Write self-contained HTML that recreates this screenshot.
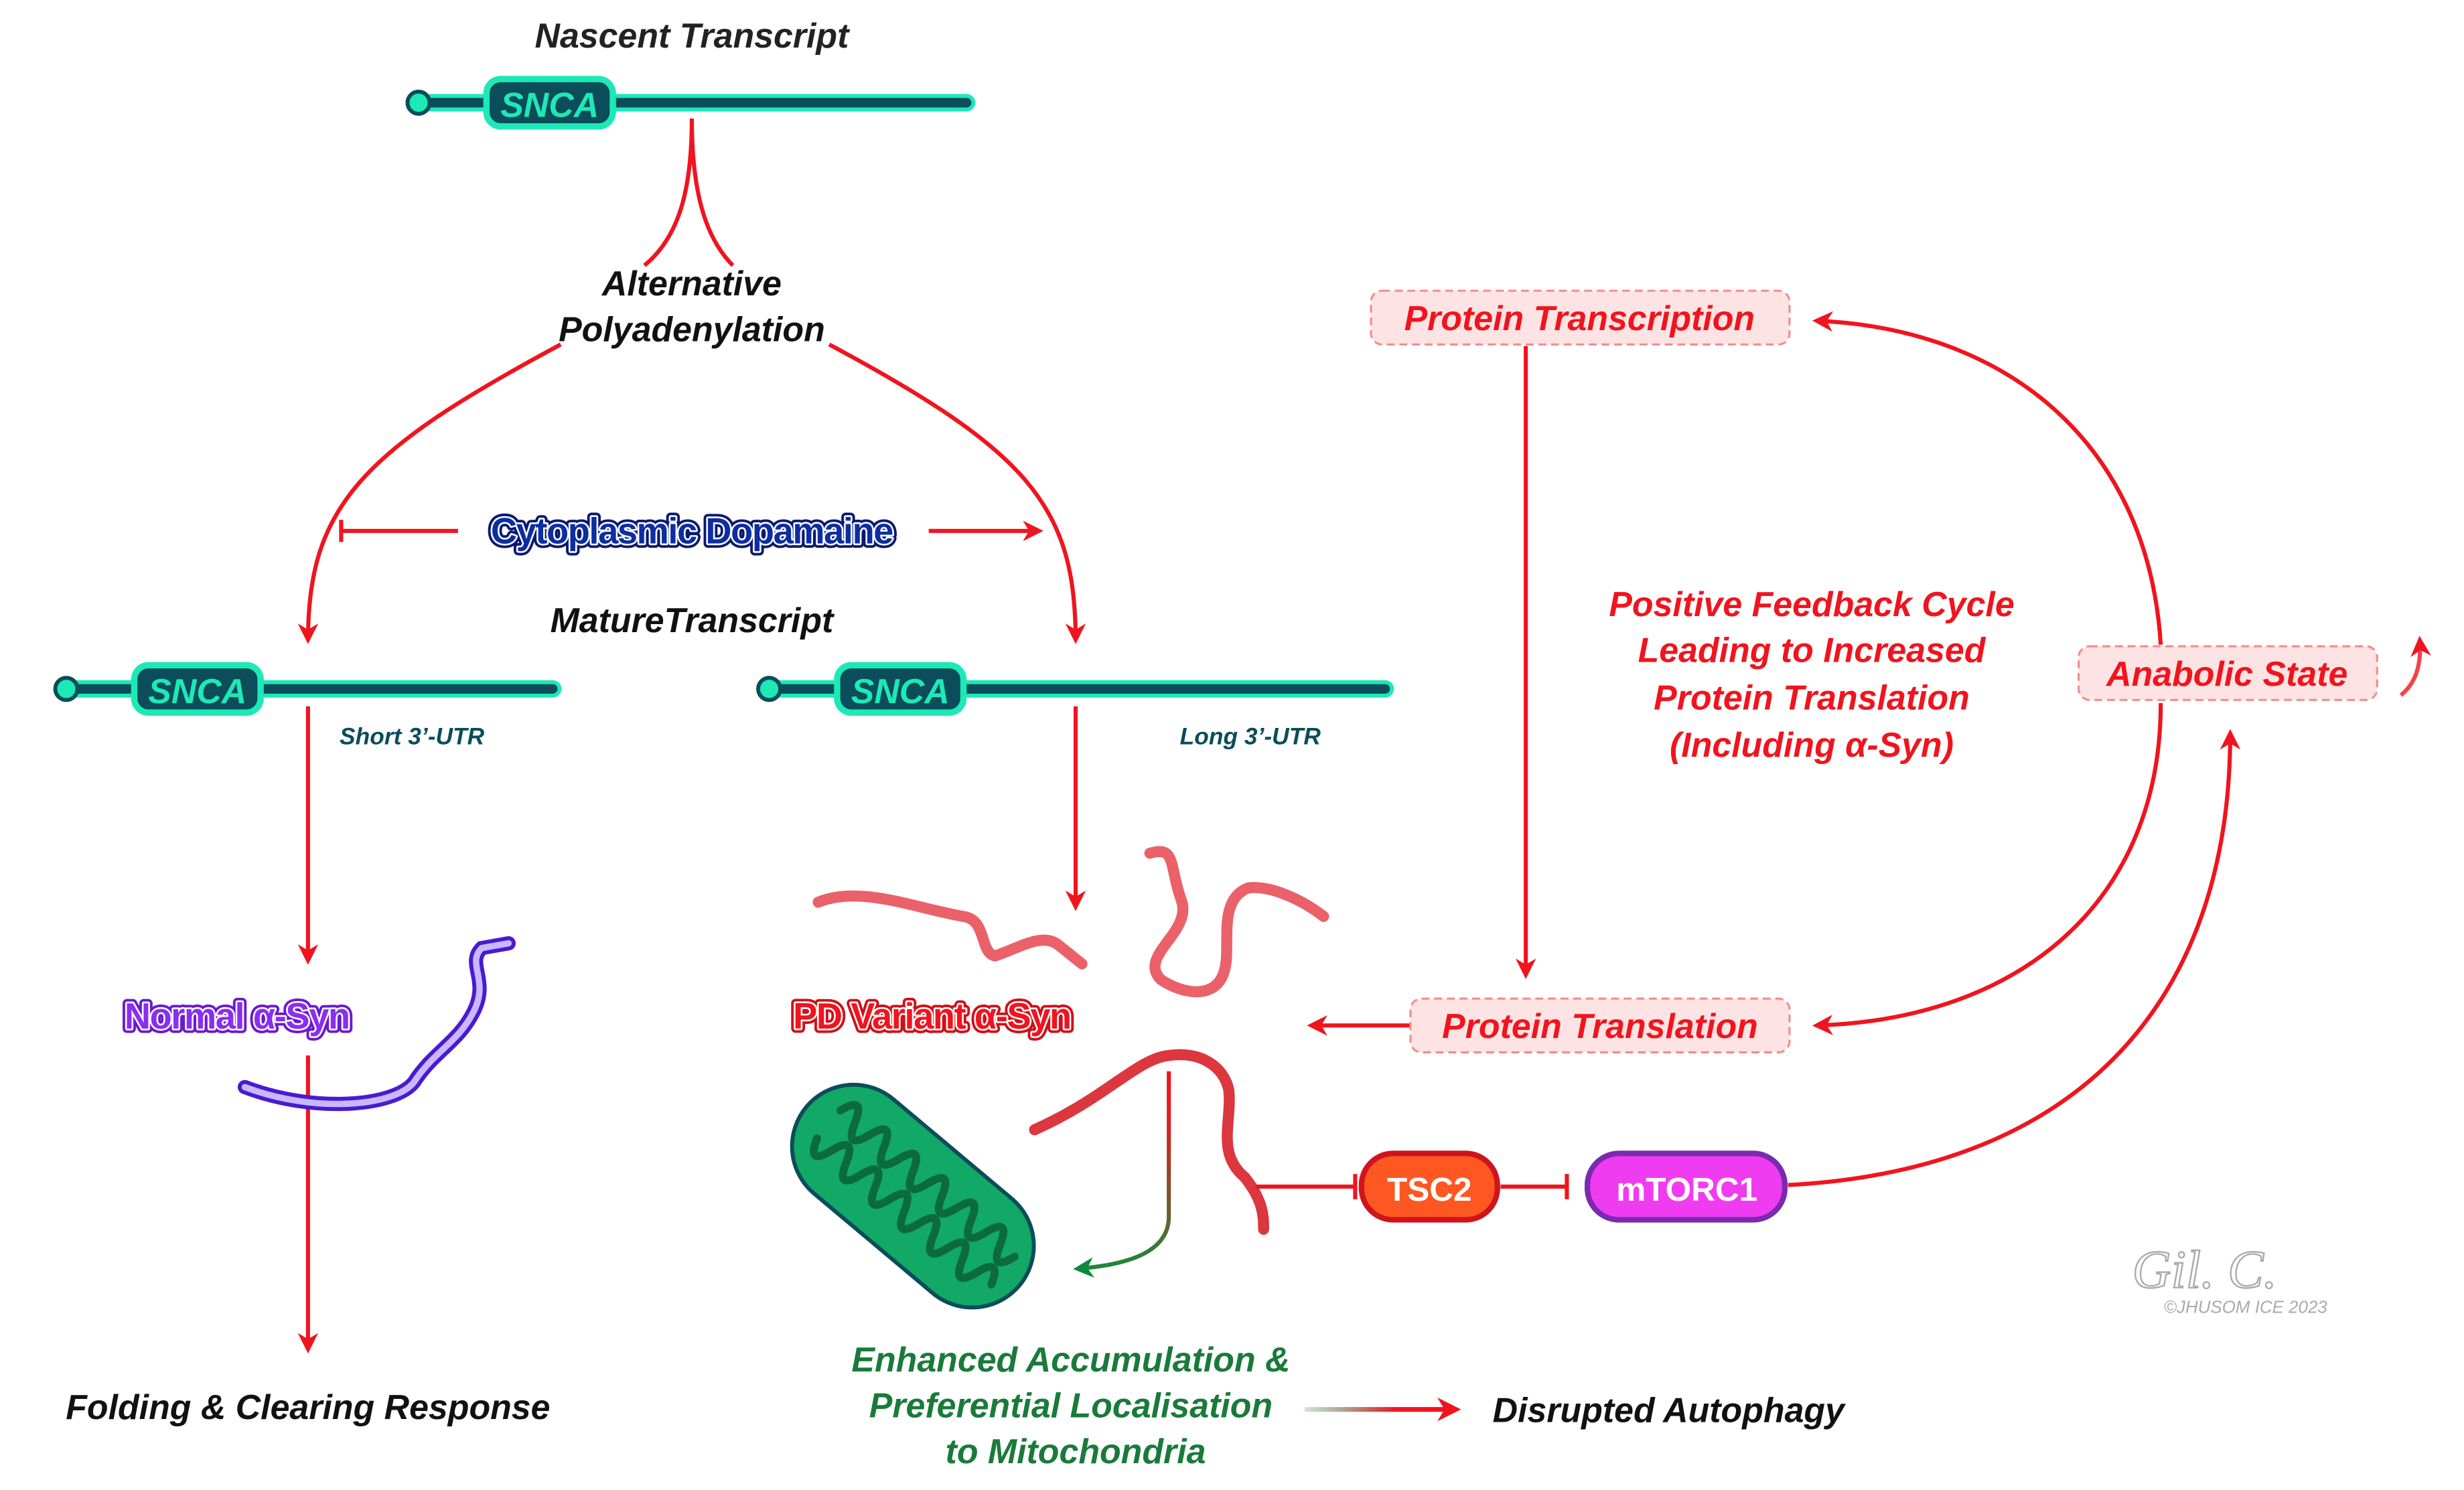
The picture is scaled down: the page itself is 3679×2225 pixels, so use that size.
<!DOCTYPE html>
<html><head><meta charset="utf-8"><style>
html,body{margin:0;padding:0;background:#fff;}
svg{display:block;}
text{font-family:"Liberation Sans",sans-serif;font-weight:bold;font-style:italic;}
text.n{font-style:normal;}
</style></head><body>
<svg width="3679" height="2225" viewBox="0 0 1560 943" preserveAspectRatio="none" xmlns="http://www.w3.org/2000/svg">
<defs>
<marker id="ar" viewBox="0 0 10 10" refX="8" refY="5" markerWidth="5" markerHeight="5" orient="auto-start-reverse"><path d="M0,0 L10,5 L0,10 L3,5z" fill="#f0141e"/></marker>
<marker id="ag" viewBox="0 0 10 10" refX="8" refY="5" markerWidth="5" markerHeight="5" orient="auto"><path d="M0,0 L10,5 L0,10 L3,5z" fill="#0a8a3a"/></marker>
<linearGradient id="gr" gradientUnits="userSpaceOnUse" x1="826" y1="0" x2="922" y2="0"><stop offset="0" stop-color="#1a7a3a" stop-opacity="0.2"/><stop offset="0.6" stop-color="#f0141e"/></linearGradient>
<linearGradient id="rg" gradientUnits="userSpaceOnUse" x1="0" y1="700" x2="0" y2="805"><stop offset="0" stop-color="#f0141e"/><stop offset="1" stop-color="#1a8a3a"/></linearGradient>
</defs>
<g fill="none" stroke="#f0141e" stroke-width="2.6">
<path d="M438,75 C438,120 430,150 408,168"/>
<path d="M438,75 C438,120 446,150 464,168"/>
<path d="M355,218 C230,285 195,320 195,405" marker-end="url(#ar)"/>
<path d="M525,218 C650,285 681,320 681,405" marker-end="url(#ar)"/>
<path d="M290,336 L216,336 M216,329 L216,343"/>
<path d="M588,336 L658,336" marker-end="url(#ar)"/>
<path d="M195,447 L195,608" marker-end="url(#ar)"/>
<path d="M195,668 L195,854" marker-end="url(#ar)"/>
<path d="M681,447 L681,574" marker-end="url(#ar)"/>
<path d="M966,219 L966,617" marker-end="url(#ar)"/>
<path d="M893,649 L830,649" marker-end="url(#ar)"/>
<path d="M1368,408 C1360,280 1270,208 1150,203" marker-end="url(#ar)"/>
<path d="M1368,445 C1368,570 1280,645 1150,649" marker-end="url(#ar)"/>
<path d="M1132,750 C1320,740 1412,630 1412,464" marker-end="url(#ar)"/>
<path d="M1520,440 C1530,432 1533,420 1532,405" marker-end="url(#ar)" stroke-opacity="0.8"/>
<path d="M795,751 L858,751 M858,743 L858,759"/>
<path d="M950,751 L992,751 M992,743 L992,759"/>
</g>
<path d="M740,678 L740,770 C740,790 720,800 682,803" fill="none" stroke="url(#rg)" stroke-width="2.6" marker-end="url(#ag)"/>
<path d="M826,892 L922,892" fill="none" stroke="url(#gr)" stroke-width="3" marker-end="url(#ar)"/>
<g>
<path d="M265,65 L612,65" stroke="#1de9b6" stroke-width="11" stroke-linecap="round"/>
<path d="M265,65 L612,65" stroke="#0b4d5a" stroke-width="6" stroke-linecap="round"/>
<circle cx="265" cy="65" r="7" fill="#1de9b6" stroke="#0b4d5a" stroke-width="2.5"/>
<rect x="308" y="50" width="80" height="30" rx="9" fill="#0b4d5a" stroke="#1de9b6" stroke-width="4"/>
<text x="348" y="74" font-size="22" fill="#1de9b6" text-anchor="middle">SNCA</text>
<path d="M42,436 L350,436" stroke="#1de9b6" stroke-width="11" stroke-linecap="round"/>
<path d="M42,436 L350,436" stroke="#0b4d5a" stroke-width="6" stroke-linecap="round"/>
<circle cx="42" cy="436" r="7" fill="#1de9b6" stroke="#0b4d5a" stroke-width="2.5"/>
<rect x="85" y="421" width="80" height="30" rx="9" fill="#0b4d5a" stroke="#1de9b6" stroke-width="4"/>
<text x="125" y="445" font-size="22" fill="#1de9b6" text-anchor="middle">SNCA</text>
<path d="M487,436 L877,436" stroke="#1de9b6" stroke-width="11" stroke-linecap="round"/>
<path d="M487,436 L877,436" stroke="#0b4d5a" stroke-width="6" stroke-linecap="round"/>
<circle cx="487" cy="436" r="7" fill="#1de9b6" stroke="#0b4d5a" stroke-width="2.5"/>
<rect x="530" y="421" width="80" height="30" rx="9" fill="#0b4d5a" stroke="#1de9b6" stroke-width="4"/>
<text x="570" y="445" font-size="22" fill="#1de9b6" text-anchor="middle">SNCA</text>
</g>
<path d="M155,688 C200,705 250,700 262,685 C275,665 290,660 300,640 C310,620 295,610 305,600 L322,597" fill="none" stroke="#4a1ad0" stroke-width="9" stroke-linecap="round"/>
<path d="M155,688 C200,705 250,700 262,685 C275,665 290,660 300,640 C310,620 295,610 305,600 L322,597" fill="none" stroke="#c8b8ff" stroke-width="4" stroke-linecap="round"/>
<g fill="none" stroke="#e8505a" stroke-width="7" stroke-linecap="round" opacity="0.9">
<path d="M518,571 C545,560 580,575 610,580 C625,582 620,603 630,605 C645,600 660,590 670,598 L685,610"/>
<path d="M728,540 C745,535 740,548 748,570 C755,590 720,605 735,620 C750,630 770,632 775,615 C780,600 770,570 790,562 C805,560 825,570 838,580"/>
<path d="M655,715 C700,695 720,670 740,668 C760,665 775,675 778,690 C780,710 770,730 788,745 C800,760 800,770 800,778" stroke="#d8202a"/>
</g>
<g transform="rotate(40 578 757)">
<rect x="490" y="718" width="176" height="78" rx="39" fill="#12a866" stroke="#0b4d5a" stroke-width="2.5"/>
<path d="M508,745 q6,-18 12,0 t12,0 t12,0 t12,0 t12,0 t12,0 t12,0 t12,0 t12,0 t12,0 t12,0 t12,0 M508,768 q6,18 12,0 t12,0 t12,0 t12,0 t12,0 t12,0 t12,0 t12,0 t12,0 t12,0 t12,0 t12,0" stroke="#0b6a3e" stroke-width="5" stroke-linecap="round" fill="none"/>
</g>
<rect x="868" y="184" width="265" height="34" rx="7" fill="#fde3e3" stroke="#f58a8a" stroke-width="1.3" stroke-dasharray="5,3"/>
<rect x="893" y="632" width="240" height="34" rx="7" fill="#fde3e3" stroke="#f58a8a" stroke-width="1.3" stroke-dasharray="5,3"/>
<rect x="1316" y="409" width="189" height="34" rx="7" fill="#fde3e3" stroke="#f58a8a" stroke-width="1.3" stroke-dasharray="5,3"/>
<rect x="862" y="730" width="86" height="42" rx="20" fill="#ff5722" stroke="#d0141e" stroke-width="3.5"/>
<rect x="1005" y="730" width="125" height="42" rx="20" fill="#f03cf0" stroke="#7a2ab0" stroke-width="3.5"/>
<text class="n" x="905" y="760" font-size="21" fill="#fff" text-anchor="middle">TSC2</text>
<text class="n" x="1068" y="760" font-size="21" fill="#fff" text-anchor="middle">mTORC1</text>
<g font-size="22" text-anchor="middle">
<text x="438" y="30" fill="#222">Nascent Transcript</text>
<text x="438" y="187" fill="#111">Alternative</text>
<text x="438" y="216" fill="#111">Polyadenylation</text>
<g font-size="23" letter-spacing="-0.6">
<text class="n" x="438" y="344" fill="none" stroke="#0a1a70" stroke-width="5.5" stroke-linejoin="round">Cytoplasmic Dopamaine</text>
<text class="n" x="438" y="344" fill="none" stroke="#fff" stroke-width="2.2" stroke-linejoin="round">Cytoplasmic Dopamaine</text>
<text class="n" x="438" y="344" fill="#0d2ea0">Cytoplasmic Dopamaine</text>
<text class="n" x="150" y="651" fill="none" stroke="#6a1ad0" stroke-width="5.5" stroke-linejoin="round">Normal α-Syn</text>
<text class="n" x="150" y="651" fill="none" stroke="#fff" stroke-width="2.2" stroke-linejoin="round">Normal α-Syn</text>
<text class="n" x="150" y="651" fill="#8a2ef0">Normal α-Syn</text>
<text class="n" x="590" y="651" fill="none" stroke="#d0101a" stroke-width="5.5" stroke-linejoin="round">PD Variant α-Syn</text>
<text class="n" x="590" y="651" fill="none" stroke="#fff" stroke-width="2.2" stroke-linejoin="round">PD Variant α-Syn</text>
<text class="n" x="590" y="651" fill="#f0141e">PD Variant α-Syn</text>
</g>
<text x="438" y="400" fill="#111">MatureTranscript</text>
<text x="195" y="898" fill="#111">Folding &amp; Clearing Response</text>
<text x="1000" y="209" fill="#f0141e">Protein Transcription</text>
<text x="1013" y="657" fill="#f0141e">Protein Translation</text>
<text x="1410" y="434" fill="#f0141e">Anabolic State</text>
<text x="1147" y="390" fill="#f0141e">Positive Feedback Cycle</text>
<text x="1147" y="419" fill="#f0141e">Leading to Increased</text>
<text x="1147" y="449" fill="#f0141e">Protein Translation</text>
<text x="1147" y="479" fill="#f0141e">(Including α-Syn)</text>
<text x="678" y="868" fill="#1a7a3a">Enhanced Accumulation &amp;</text>
<text x="678" y="897" fill="#1a7a3a">Preferential Localisation</text>
<text x="681" y="926" fill="#1a7a3a">to Mitochondria</text>
<text x="945" y="900" fill="#111" text-anchor="start">Disrupted Autophagy</text>
</g>
<text x="215" y="471" font-size="15" fill="#0b4d5a">Short 3’-UTR</text>
<text x="747" y="471" font-size="15" fill="#0b4d5a">Long 3’-UTR</text>
<text x="1350" y="815" font-size="34" fill="none" stroke="#aaa" stroke-width="1" style="font-family:'Liberation Serif',serif;font-weight:normal">Gil. C.</text>
<text x="1370" y="831" font-size="11" fill="#aaa" style="font-weight:normal">©JHUSOM ICE 2023</text>
</svg>
</body></html>
